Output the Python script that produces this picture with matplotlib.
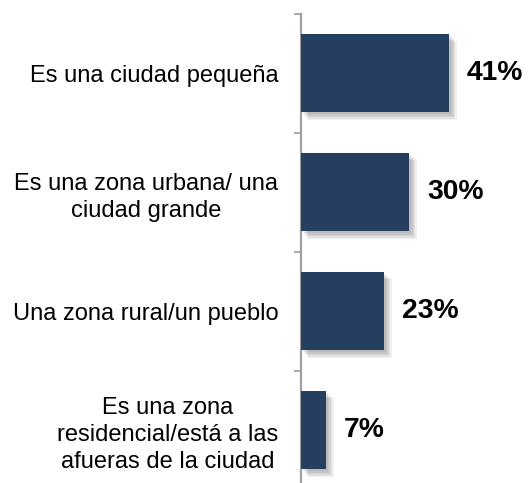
import matplotlib
matplotlib.use("Agg")
import matplotlib.pyplot as plt
import matplotlib.patheffects as pe
import numpy as np

# Data
categories = [
    "Es una ciudad pequeña",
    "Es una zona urbana/ una\nciudad grande",
    "Una zona rural/un pueblo",
    "Es una zona\nresidencial/está a las\nafueras de la ciudad",
]
values = [41, 30, 23, 7]
value_labels = ["41%", "30%", "23%", "7%"]

plt.rcParams["font.family"] = ["Liberation Sans", "DejaVu Sans"]

fig = plt.figure(figsize=(5.28, 4.83), dpi=100)
ax = fig.add_axes([0.5695, -0.0135, 0.3426, 0.9855])

y = np.arange(len(categories))

# soft drop shadow imitation: a few offset translucent copies
shadow = []
for d in [1.5, 2.5, 3.5, 4.5, 5.5]:
    shadow.append(pe.SimplePatchShadow(offset=(d, -d), shadow_rgbFace="#000000", alpha=0.06))
shadow.append(pe.Normal())

bars = ax.barh(y, values, height=0.66, color="#263f60", zorder=3)
for b in bars:
    b.set_path_effects(shadow)

for yi, v, lab in zip(y, values, value_labels):
    ax.annotate(lab, xy=(v, yi), xytext=(13, 0), textcoords="offset points",
                ha="left", va="center", fontsize=20.3, fontweight="bold",
                color="black", annotation_clip=False)

ax.set_xlim(0, 50)
ax.set_ylim(len(categories) - 0.5, -0.5)

ax.set_yticks(y)
ax.set_yticklabels(categories, fontsize=17, multialignment="center", linespacing=1.3)
ax.set_yticks(np.arange(-0.5, len(categories)), minor=True)
ax.tick_params(axis="y", which="major", length=0, pad=16)
ax.tick_params(axis="y", which="minor", length=5, width=1.3, color="#a0a0a0")
ax.set_xticks([])

for s in ["top", "right", "bottom"]:
    ax.spines[s].set_visible(False)
ax.spines["left"].set_color("#a0a0a0")
ax.spines["left"].set_linewidth(1.6)

fig.savefig("out.png", dpi=100)
